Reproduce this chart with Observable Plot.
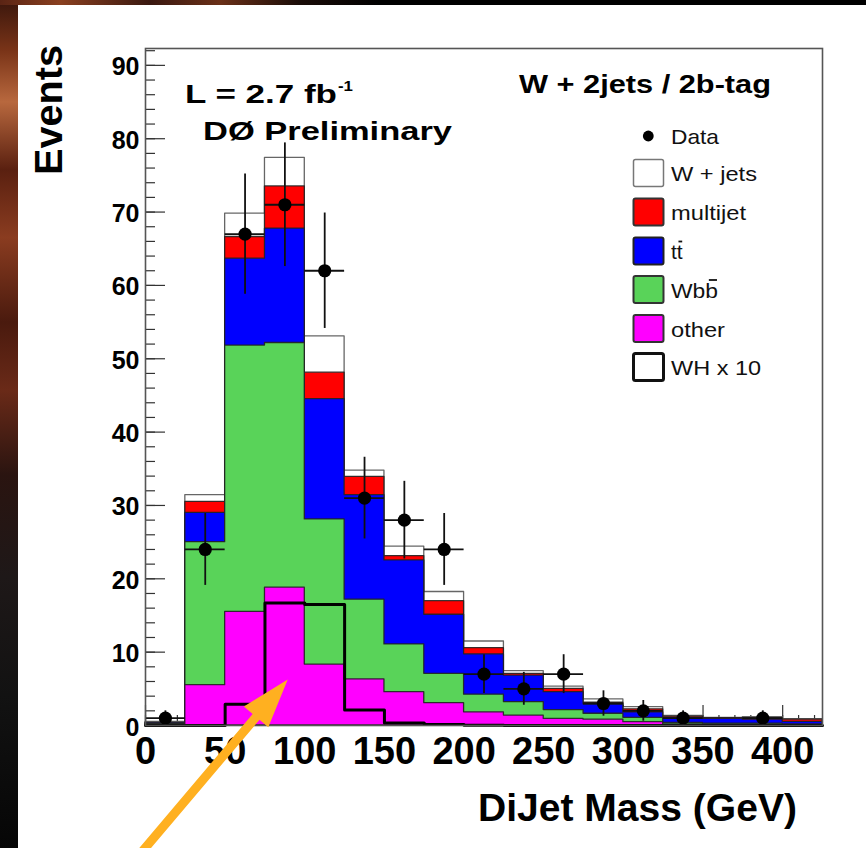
<!DOCTYPE html>
<html>
<head>
<meta charset="utf-8">
<script src="https://cdn.jsdelivr.net/npm/d3@7"></script>
<script src="https://cdn.jsdelivr.net/npm/@observablehq/plot@0.6"></script>
<style>
  html, body { margin: 0; padding: 0; width: 866px; height: 848px; overflow: hidden; background: #000; }
  body { position: relative; font-family: "Liberation Sans", Arial, sans-serif; }
  #bgLeft { position: absolute; left: 0; top: 0; width: 18px; height: 848px;
    background: linear-gradient(to bottom, #3a160c 0%, #7a3418 6%, #b8683e 12%, #5a2010 20%, #8a3c20 28%, #4a1a0e 38%, #6a2a18 46%, #2a1410 56%, #1e1818 68%, #121212 82%, #060606 100%); }
  #bgTop { position: absolute; left: 0; top: 0; width: 866px; height: 5px;
    background: linear-gradient(to right, #5a2414 0, #8a4020 60px, #3a1810 150px, #6a3018 220px, #1a0c08 300px, #000 380px, #000 100%); }
  #panel { position: absolute; left: 18px; top: 5px; width: 848px; height: 843px; background: #fff; }
  #chart { position: absolute; left: 0; top: 0; }
  #overlay { position: absolute; left: 0; top: 0; pointer-events: none; }
</style>
</head>
<body>
<div id="bgLeft"></div>
<div id="bgTop"></div>
<div id="panel"></div>
<div id="chart"></div>
<svg id="overlay" width="866" height="848" xmlns="http://www.w3.org/2000/svg"></svg>
<script>
// ---------------- data ----------------
const binLo    = [0, 25, 50, 75, 100, 125, 150, 175, 200, 225, 250, 275, 300, 325, 350, 375, 400];
const binWidth = 25;
const xMax = 425;
const yMax = 92.3;

// observed data (events) and their error bars
const dataCounts = [1, 24, 67, 71, 62, 31, 28, 24, 7, 5, 7, 3, 2, 1, 0, 1, 0];
const dataErr    = [1, 4.9, 8.19, 8.43, 7.87, 5.57, 5.29, 4.9, 2.65, 2.24, 2.65, 1.73, 1.41, 1, 0, 1, 0];

// background components (per-bin contributions, stacked bottom -> top)
const other    = [0.1, 5.5, 15.5, 18.8, 8.3, 6.3, 4.55, 3.05, 1.8, 1.35, 0.9, 0.8, 0.45, 0.15, 0.1, 0.1, 0.05];
const wbb      = [0.1, 19.5, 36.3, 33.35, 19.8, 10.85, 6.5, 4.0, 2.4, 1.85, 1.2, 0.8, 0.6, 0.2, 0.15, 0.15, 0.1];
const ttbar    = [0.1, 4.0, 11.85, 15.6, 16.4, 14.25, 11.45, 8.05, 5.5, 3.6, 2.45, 1.3, 0.75, 0.7, 0.65, 0.55, 0.35];
const multijet = [0.05, 1.5, 2.95, 5.75, 3.6, 2.5, 0.6, 1.85, 0.85, 0.25, 0.45, 0.2, 0.4, 0.15, 0.1, 0.2, 0.3];
const wjets    = [0.15, 0.9, 3.2, 3.9, 4.95, 0.85, 1.3, 1.25, 0.9, 0.35, 0.3, 0.45, 0.3, 0.1, 0.05, 0.15, 0.05];

// signal WH x 10
const wh10 = [0, 0, 2.9, 16.7, 16.5, 2.1, 0.35, 0.15, 0.05, 0, 0, 0, 0, 0, 0, 0, 0];

// axis ticks
const yTicks = [0, 10, 20, 30, 40, 50, 60, 70, 80, 90];
const xTicks = [0, 50, 100, 150, 200, 250, 300, 350, 400];
const yMinor = d3.range(0, 92.1, 2);
const xMinor = d3.range(0, 421, 10);

// legend entries
const legendLabels = ["Data", "W + jets", "multijet", "tt", "Wbb", "other", "WH x 10"];

// annotation arrow (data units)
const arrowFrom = {x: -4.7, y: -18};
const arrowTo   = {x: 89.6, y: 6.2};

// ---------------- build ----------------
const components = [
  {key: "other",    values: other,    fill: "#ff00ff", stroke: "#222"},
  {key: "wbb",      values: wbb,      fill: "#59d359", stroke: "#222"},
  {key: "tt",       values: ttbar,    fill: "#0000ff", stroke: "#222"},
  {key: "multijet", values: multijet, fill: "#ff0000", stroke: "#222"},
  {key: "wjets",    values: wjets,    fill: "#ffffff", stroke: "#555"}
];
let run = binLo.map(() => 0);
components.forEach(c => { run = run.map((v, i) => v + c.values[i]); c.top = run.slice(); });

const edges = [...binLo, xMax];
const stepPts = arr => edges.map((x, i) => ({x, y: arr[Math.min(i, arr.length - 1)]}));

const dataRows = binLo.map((lo, i) => ({
  c: lo + binWidth / 2, lo, hi: lo + binWidth, n: dataCounts[i],
  eLo: dataCounts[i] - dataErr[i], eHi: dataCounts[i] + dataErr[i]
})).filter(d => d.n > 0);

const W = 866, H = 848, mL = 145, mR = 44, mT = 48, mB = 123;
const fw = W - mL - mR, fh = H - mT - mB;
const FONT = "Liberation Sans, Arial, Helvetica, sans-serif";

const marks = [
  Plot.tickY(yMinor, {y: d => d, insetRight: fw - 10, stroke: "#333", strokeWidth: 1.2}),
  Plot.tickY(yTicks, {y: d => d, insetRight: fw - 20, stroke: "#333", strokeWidth: 1.2}),
  Plot.tickX(xMinor, {x: d => d, insetTop: fh - 10, stroke: "#333", strokeWidth: 1.2}),
  Plot.tickX(xTicks, {x: d => d, insetTop: fh - 20, stroke: "#333", strokeWidth: 1.2})
];
// draw total first, then lower components on top
[...components].reverse().forEach(c => {
  marks.push(Plot.area(stepPts(c.top), {
    x1: "x", y1: 0, y2: "y", curve: "step-after",
    fill: c.fill, stroke: c.stroke, strokeWidth: 1.3, strokeOpacity: 0.9
  }));
});
marks.push(
  Plot.line(stepPts(wh10), {x: "x", y: "y", curve: "step-after", stroke: "#000", strokeWidth: 3}),
  Plot.ruleX(dataRows, {x: "c", y1: "eLo", y2: "eHi", stroke: "#111", strokeWidth: 1.8}),
  Plot.ruleY(dataRows, {y: "n", x1: "lo", x2: "hi", stroke: "#111", strokeWidth: 1.8}),
  Plot.dot(dataRows, {x: "c", y: "n", r: 6.6, fill: "#000", stroke: "none"}),
  Plot.frame({stroke: "#555", strokeWidth: 1.6}),
  Plot.text(yTicks, {y: d => d, text: d => String(d), frameAnchor: "left", dx: -6, dy: 2, textAnchor: "end",
    fontSize: 25, fontWeight: "bold", fontFamily: FONT, fill: "#000", ariaLabel: "ylabels"}),
  Plot.text(xTicks, {x: d => d, text: d => String(d), frameAnchor: "bottom", lineAnchor: "top", dy: 12,
    fontSize: 38, fontWeight: "bold", fontFamily: FONT, fill: "#000", ariaLabel: "xlabels"})
);

const plot = Plot.plot({
  width: W, height: H,
  marginLeft: mL, marginRight: mR, marginTop: mT, marginBottom: mB,
  style: {background: "transparent", overflow: "visible"},
  x: {domain: [0, xMax], axis: null},
  y: {domain: [0, yMax], axis: null},
  marks
});
document.getElementById("chart").appendChild(plot);

// stretch tick labels horizontally (wide bold face of the original)
function stretchTexts(sel, k) {
  plot.querySelectorAll(sel).forEach(t => {
    const L = t.getComputedTextLength();
    t.setAttribute("textLength", L * k);
    t.setAttribute("lengthAdjust", "spacingAndGlyphs");
  });
}
stretchTexts('g[aria-label="ylabels"] text', 1.22);
stretchTexts('g[aria-label="xlabels"] text', 1.1);

// annotation arrow using the plot's scales
const sx = plot.scale("x"), sy = plot.scale("y");
{
  const x0 = sx.apply(arrowFrom.x), y0 = sy.apply(arrowFrom.y);
  const x1 = sx.apply(arrowTo.x),   y1 = sy.apply(arrowTo.y);
  const dx = x1 - x0, dy = y1 - y0, len = Math.hypot(dx, dy);
  const ux = dx / len, uy = dy / len, nx = -uy, ny = ux;
  const headLen = 49, headHalf = 16, shaftHalf = 4.5;
  const bx = x1 - ux * headLen, by = y1 - uy * headLen;
  const pts = [
    [x0 + nx * shaftHalf, y0 + ny * shaftHalf],
    [bx + nx * shaftHalf, by + ny * shaftHalf],
    [bx + nx * headHalf, by + ny * headHalf],
    [x1, y1],
    [bx - nx * headHalf, by - ny * headHalf],
    [bx - nx * shaftHalf, by - ny * shaftHalf],
    [x0 - nx * shaftHalf, y0 - ny * shaftHalf]
  ];
  const p = document.createElementNS("http://www.w3.org/2000/svg", "path");
  p.setAttribute("d", "M" + pts.map(q => q.join(",")).join("L") + "Z");
  p.setAttribute("fill", "#ffb020");
  plot.appendChild(p);
}

// ---------------- overlay text & legend ----------------
const NS = "http://www.w3.org/2000/svg";
const ov = document.getElementById("overlay");
function txt(str, x, y, o = {}) {
  const t = document.createElementNS(NS, "text");
  t.textContent = str;
  t.setAttribute("x", x); t.setAttribute("y", y);
  t.setAttribute("font-family", FONT);
  t.setAttribute("font-size", o.size || 20);
  t.setAttribute("font-weight", o.weight || "normal");
  t.setAttribute("fill", o.fill || "#000");
  if (o.anchor) t.setAttribute("text-anchor", o.anchor);
  ov.appendChild(t);
  if (o.width) {
    t.setAttribute("textLength", o.width);
    t.setAttribute("lengthAdjust", "spacingAndGlyphs");
  }
  if (o.rotate) t.setAttribute("transform", `rotate(${o.rotate} ${x} ${y})`);
  return t;
}
function el(name, attrs) {
  const e = document.createElementNS(NS, name);
  for (const k in attrs) e.setAttribute(k, attrs[k]);
  ov.appendChild(e);
  return e;
}

// titles / labels
txt("W + 2jets / 2b-tag", 519, 93, {size: 25, weight: "bold", width: 252});
txt("L = 2.7 fb", 185, 103, {size: 25.5, weight: "bold", width: 152});
txt("-1", 338, 91, {size: 15, weight: "bold", width: 15});
txt("DØ Preliminary", 203, 140, {size: 25.5, weight: "bold", width: 249});
txt("Events", 62, 175, {size: 38, weight: "bold", width: 130, rotate: -90});
txt("DiJet Mass (GeV)", 478, 821, {size: 38, weight: "bold", width: 319});

// legend
const boxX = 633.5, boxW = 30, boxH = 27;
const rowY = [136, 173, 212, 251, 289.5, 328.5, 367];
const legendStyle = [
  null,
  {fill: "#ffffff", stroke: "#777", sw: 1.5},
  {fill: "#ff0000", stroke: "#333", sw: 2},
  {fill: "#0000ff", stroke: "#222", sw: 2},
  {fill: "#59d359", stroke: "#333", sw: 2},
  {fill: "#ff00ff", stroke: "#333", sw: 2},
  {fill: "#ffffff", stroke: "#111", sw: 3}
];
const legendWidths = [48, 86, 75, null, 47, 54, 90];
legendLabels.forEach((lab, i) => {
  const cy = rowY[i];
  if (i === 0) {
    el("circle", {cx: 648.3, cy: cy, r: 5.4, fill: "#000"});
  } else {
    const s = legendStyle[i];
    el("rect", {x: boxX, y: cy - boxH / 2, width: boxW, height: boxH, rx: 2,
      fill: s.fill, stroke: s.stroke, "stroke-width": s.sw});
  }
  const t = txt(lab, 671, cy + 8, {size: 21, width: legendWidths[i] || undefined, fill: "#111"});
  // overline for anti-quarks (tt̄, Wbb̄): bar over last character
  if (lab === "tt" || lab === "Wbb") {
    const ext = t.getExtentOfChar(lab.length - 1);
    el("line", {x1: ext.x + ext.width * 0.28, x2: ext.x + ext.width * 0.92,
      y1: ext.y + 1.5, y2: ext.y + 1.5, stroke: "#111", "stroke-width": 1.8});
  }
});
</script>
</body>
</html>
